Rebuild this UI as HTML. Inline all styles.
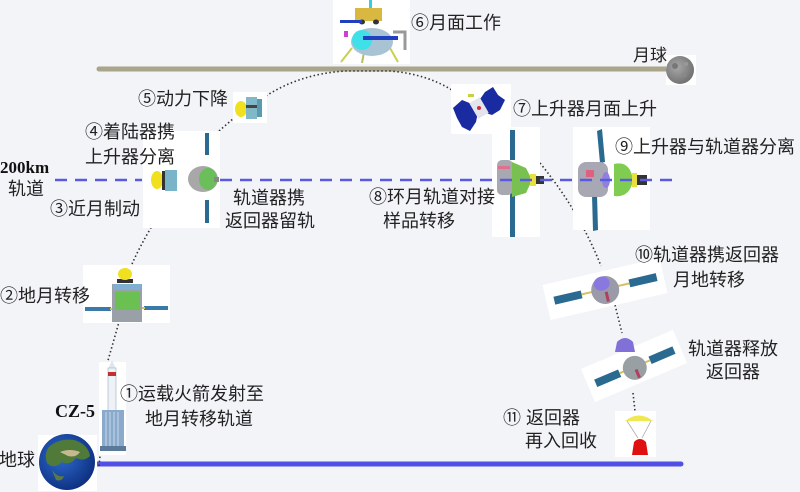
<!DOCTYPE html>
<html><head><meta charset="utf-8">
<style>
html,body{margin:0;padding:0;background:#f3f4f8;}
svg{display:block;}
text{font-family:"Liberation Sans","Noto Sans CJK SC",sans-serif;font-size:18px;fill:#222;}
.b{font-family:"Liberation Serif","Noto Serif CJK SC",serif;font-weight:bold;fill:#111;}
</style></head><body>
<svg width="800" height="492" viewBox="0 0 800 492" xmlns="http://www.w3.org/2000/svg">
<defs>
<radialGradient id="eg" cx="0.4" cy="0.4" r="0.7">
<stop offset="0" stop-color="#2e6ad0"/><stop offset="1" stop-color="#0a2a78"/>
</radialGradient>
<radialGradient id="mg" cx="0.4" cy="0.4" r="0.7">
<stop offset="0" stop-color="#a8a8a8"/><stop offset="1" stop-color="#6a6a6a"/>
</radialGradient>
</defs>
<rect width="800" height="492" fill="#f3f4f8"/>

<!-- moon surface line -->
<line x1="99" y1="69" x2="672" y2="69" stroke="#a8a58a" stroke-width="5" stroke-linecap="round"/>
<rect x="666" y="55" width="30" height="30" fill="#fff"/>
<circle cx="680" cy="70" r="14" fill="url(#mg)"/>
<circle cx="675" cy="66" r="3" fill="#777"/><circle cx="684" cy="75" r="2.5" fill="#888"/><circle cx="686" cy="64" r="2" fill="#999"/>

<!-- earth line -->
<line x1="97" y1="464" x2="681" y2="464" stroke="#5050e4" stroke-width="5" stroke-linecap="round"/>

<!-- dotted trajectory -->
<g fill="none" stroke="#333" stroke-width="1.6" stroke-dasharray="1.5 2.5">
<path d="M99 466 L100 456"/>
<path d="M107 364 L119 322"/>
<path d="M132 264 Q140 246 152 226"/>
<path d="M219 131 L234 118"/>
<path d="M266 96 Q300 74 345 71 L390 71 Q428 74 455 92"/>
<path d="M540 163 Q562 190 578 218 Q592 243 601 266"/>
<path d="M615 305 L622 333"/>
<path d="M633 393 L635 411"/>
</g>

<!-- white boxes -->
<rect x="333" y="0" width="77" height="64" fill="#fff"/>
<rect x="233" y="92" width="34" height="31" fill="#fff"/>
<rect x="451" y="84" width="60" height="50" fill="#fff"/>
<rect x="492" y="127" width="48" height="110" fill="#fff"/>
<rect x="573" y="127" width="77" height="103" fill="#fff"/>
<rect x="83" y="265" width="87" height="58" fill="#fff"/>
<rect x="99" y="362" width="27" height="93" fill="#fff"/>
<rect x="615" y="411" width="41" height="46" fill="#fff"/>
<rect x="38" y="435" width="59" height="56" fill="#fff"/>

<!-- lander -->
<g>
<line x1="352" y1="48" x2="341" y2="62" stroke="#c8d050" stroke-width="2"/>
<line x1="390" y1="48" x2="398" y2="62" stroke="#c8d050" stroke-width="2"/>
<line x1="364" y1="52" x2="362" y2="63" stroke="#b0c060" stroke-width="2"/>
<rect x="344" y="31" width="4" height="6" fill="#d040d0"/>
<ellipse cx="372" cy="42" rx="21" ry="14" fill="#a8c4d4"/>
<ellipse cx="362" cy="40" rx="10" ry="10" fill="#40e0e8"/>
<rect x="355" y="8" width="27" height="13" fill="#d8b840"/>
<ellipse cx="362" cy="22" rx="3" ry="2.5" fill="#333"/><ellipse cx="376" cy="22" rx="3" ry="2.5" fill="#333"/>
<rect x="340" y="20" width="22" height="3" fill="#2040c0"/>
<rect x="363" y="36" width="35" height="4" fill="#2040c0"/>
<path d="M393 32 L405 32 L405 50" stroke="#999" stroke-width="3" fill="none"/>
<rect x="369" y="0" width="3" height="8" fill="#30d0e0"/>
</g>

<!-- 5 craft -->
<ellipse cx="241" cy="109" rx="6" ry="8" fill="#f0e020"/>
<rect x="246" y="97" width="11" height="22" fill="#80b8c8"/>
<rect x="257" y="99" width="5" height="18" fill="#5a9ab0"/>
<rect x="246" y="105" width="11" height="3" fill="#444"/>

<!-- 7 ascender -->
<polygon points="453,108 462,100 472,104 478,112 476,122 470,131 462,127 457,118" fill="#1a2aa0"/>
<polygon points="478,102 485,92 493,87 498,95 505,100 500,110 492,115 483,112" fill="#1a2aa0"/>
<rect x="473" y="99" width="12" height="18" fill="#e4e4ec" transform="rotate(-30 479 108)"/>
<circle cx="479" cy="108" r="2" fill="#d03040"/>
<rect x="468" y="94" width="6" height="3" fill="#c8d040"/>

<!-- 8 docked -->
<rect x="510" y="130" width="5" height="30" fill="#2a6a90"/>
<rect x="510" y="193" width="5" height="44" fill="#2a6a90"/>
<rect x="497" y="160" width="16" height="35" rx="5" fill="#a8a8b0"/>
<rect x="498" y="166" width="12" height="3" fill="#e07090"/>
<path d="M512 162 L526 168 L532 180 L526 193 L512 197 Z" fill="#78c050"/>
<rect x="530" y="174" width="6" height="12" fill="#e8e040"/>
<rect x="536" y="176" width="8" height="8" fill="#333"/>

<!-- 9 separated -->
<polygon points="597,131 602,129 605,162 600,163" fill="#2a6a90"/>
<polygon points="592,195 597,194 598,230 593,231" fill="#2a6a90"/>
<rect x="578" y="162" width="30" height="35" rx="8" fill="#a8a8b4"/>
<rect x="586" y="170" width="8" height="7" fill="#e06080"/>
<ellipse cx="606" cy="180" rx="4" ry="8" fill="#9080e0"/>
<path d="M614 164 Q630 160 633 180 Q630 198 614 196 Z" fill="#80cc50"/>
<rect x="632" y="173" width="5" height="14" fill="#e8e040"/>
<rect x="637" y="175" width="10" height="10" fill="#333"/>

<!-- 2 craft -->
<rect x="85" y="307" width="26" height="4" fill="#3a7aa8"/>
<rect x="144" y="306" width="24" height="4" fill="#3a7aa8"/>
<line x1="110" y1="309" x2="113" y2="309" stroke="#d8c060" stroke-width="2"/>
<line x1="141" y1="308" x2="145" y2="308" stroke="#d8c060" stroke-width="2"/>
<rect x="112" y="284" width="30" height="38" fill="#9aa0a8"/>
<rect x="115" y="292" width="25" height="18" fill="#6ac050"/>
<rect x="113" y="284" width="28" height="6" fill="#80b0d0"/>
<rect x="117" y="279" width="16" height="4" fill="#333"/>
<ellipse cx="125" cy="274" rx="7" ry="6" fill="#f0e020"/>

<!-- rocket -->
<polygon points="108,369 112,360 116,369" fill="#e0e6ee"/>
<rect x="108" y="368" width="8" height="46" fill="#eef2f6" stroke="#b0c0d0" stroke-width="0.8"/>
<rect x="108" y="372" width="8" height="4" fill="#c03030"/>
<rect x="102" y="410" width="22" height="38" fill="#8aaacb"/>
<g stroke="#c8d8e8" stroke-width="1"><line x1="106" y1="412" x2="106" y2="446"/><line x1="110" y1="412" x2="110" y2="446"/><line x1="114" y1="412" x2="114" y2="446"/><line x1="118" y1="412" x2="118" y2="446"/></g>
<rect x="100" y="446" width="26" height="5" fill="#5a7a9a"/>

<!-- earth -->
<circle cx="67" cy="462" r="28" fill="url(#eg)"/>
<path d="M48 448 Q58 438 74 440 Q88 444 90 456 Q84 462 76 458 Q70 466 62 462 Q54 470 47 463 Q44 455 48 448 Z" fill="#4f7a3a"/>
<path d="M60 452 Q70 448 80 452 Q76 458 68 456 Z" fill="#c8b890"/>
<path d="M52 470 Q58 478 64 476 Q62 482 56 480 Z" fill="#5a7a40"/>

<!-- 4 box -->
<rect x="143" y="131" width="77" height="97" fill="#fff"/>
<ellipse cx="157" cy="180" rx="6" ry="9" fill="#f0e020"/>
<rect x="162" y="171" width="3" height="19" fill="#333"/>
<rect x="165" y="170" width="12" height="21" fill="#7ab4c8"/>
<rect x="205" y="133" width="4" height="22" fill="#2a6a90"/>
<rect x="205" y="200" width="4" height="23" fill="#2a6a90"/>
<ellipse cx="203" cy="179" rx="15" ry="13" fill="#a8a8a8"/>
<ellipse cx="208" cy="179" rx="9" ry="11" fill="#6abf5a"/>
<rect x="214" y="177" width="5" height="5" fill="#888"/>

<!-- 10 craft -->
<g transform="rotate(-13 605 289)">
<rect x="545" y="271" width="120" height="36" fill="#fff"/>
<rect x="553" y="285" width="28" height="8" fill="#2a6a90"/>
<rect x="630" y="285" width="28" height="8" fill="#2a6a90"/>
<line x1="581" y1="289" x2="592" y2="289" stroke="#d8c060" stroke-width="2"/>
<line x1="618" y1="289" x2="630" y2="289" stroke="#d8c060" stroke-width="2"/>
<ellipse cx="605" cy="290" rx="14" ry="14" fill="#9a9aa8"/>
<ellipse cx="603" cy="283" rx="8" ry="7" fill="#8878e0"/>
<rect x="604" y="292" width="3" height="10" fill="#b04060"/>
</g>

<!-- released -->
<g transform="rotate(-23 634 366)">
<rect x="584" y="348" width="100" height="36" fill="#fff"/>
<rect x="592" y="363" width="26" height="8" fill="#2a6a90"/>
<rect x="651" y="363" width="26" height="8" fill="#2a6a90"/>
<line x1="618" y1="367" x2="624" y2="367" stroke="#d8c060" stroke-width="2"/>
<line x1="645" y1="367" x2="651" y2="367" stroke="#d8c060" stroke-width="2"/>
<ellipse cx="634" cy="368" rx="12" ry="12" fill="#98a0a4"/>
<rect x="633" y="370" width="3" height="9" fill="#b04060"/>
</g>
<path d="M615 352 L617 342 Q625 334 633 342 L635 352 Z" fill="#8070d8"/>

<!-- parachute -->
<path d="M625 421 Q639 410 653 421 Z" fill="#f0e850"/>
<line x1="627" y1="421" x2="638" y2="438" stroke="#aaa" stroke-width="0.8"/>
<line x1="651" y1="421" x2="642" y2="438" stroke="#aaa" stroke-width="0.8"/>
<path d="M632 455 L634 442 Q640 436 646 442 L648 455 Z" fill="#e01010"/>

<!-- 200km dashed orbit -->
<g stroke="#5a5ade" stroke-width="2.5" stroke-dasharray="12 8" fill="none">
<line x1="55" y1="180" x2="142" y2="180"/>
<line x1="220" y1="180" x2="680" y2="180"/>
</g>

<!-- labels -->
<text x="411" y="29">⑥月面工作</text>
<text x="633" y="61" style="font-size:17px">月球</text>
<text x="138" y="105">⑤动力下降</text>
<text x="85" y="138">④着陆器携</text>
<text x="85" y="163">上升器分离</text>
<text x="513" y="115">⑦上升器月面上升</text>
<text x="615" y="153">⑨上升器与轨道器分离</text>
<text class="b" x="0" y="173" style="font-size:17px">200km</text>
<text x="8" y="195">轨道</text>
<text x="50" y="215">③近月制动</text>
<text x="233" y="204">轨道器携</text>
<text x="225" y="227">返回器留轨</text>
<text x="369" y="203">⑧环月轨道对接</text>
<text x="383" y="227">样品转移</text>
<text x="635" y="261">⑩轨道器携返回器</text>
<text x="673" y="286">月地转移</text>
<text x="0" y="302">②地月转移</text>
<text x="688" y="355">轨道器释放</text>
<text x="706" y="378">返回器</text>
<text x="120" y="400">①运载火箭发射至</text>
<text x="145" y="425">地月转移轨道</text>
<text class="b" x="55" y="417" style="font-size:18px">CZ-5</text>
<text x="-1" y="466">地球</text>
<text x="503" y="424">⑪ 返回器</text>
<text x="525" y="447">再入回收</text>
</svg>
</body></html>
